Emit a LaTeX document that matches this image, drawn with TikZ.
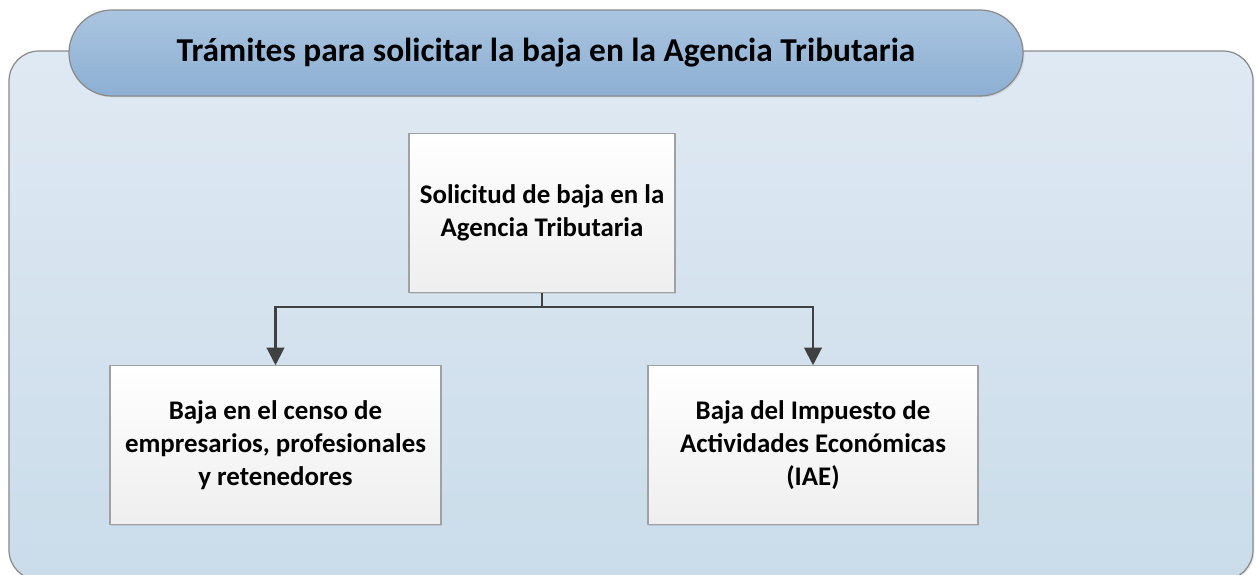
\documentclass[tikz,border=0pt]{standalone}
\usepackage{fontspec}
\setmainfont{Carlito}
\usepackage{tikz}
\usetikzlibrary{arrows.meta}
\usetikzlibrary{shadows}
\definecolor{panelTop}{HTML}{DFE9F3}
\definecolor{panelBot}{HTML}{CADCEA}
\definecolor{pillTop}{HTML}{AAC5E0}
\definecolor{pillBot}{HTML}{8CAFD3}
\definecolor{rim}{HTML}{8A8A8A}
\definecolor{linegray}{HTML}{404040}
\tikzset{%
    stepbox/.style={draw=rim!80,line width=0.6pt,top color=white,bottom color=gray!13,inner sep=1pt,
        minimum height=3.17cm,align=flush center,
        font=\fontsize{15.3}{18.8}\selectfont\bfseries,
        drop shadow={opacity=0.22,shadow xshift=0.6pt,shadow yshift=-0.9pt}},
    conn/.style={draw=linegray,line width=1.2pt,-{Triangle[width=10pt,length=10pt]}}
}

\begin{document}
\begin{tikzpicture}
        \useasboundingbox (0,0) rectangle (25.12,-11.48);

        \draw[rim,line width=0.7pt,rounded corners=0.6cm,top color=panelTop,bottom color=panelBot,
            drop shadow={opacity=0.2,shadow xshift=0.8pt,shadow yshift=-0.8pt}]
            (0.18,-1.02) rectangle (25.06,-11.6);

        \node[draw=rim,line width=0.7pt,rounded corners=0.86cm,top color=pillTop,bottom color=pillBot,
            minimum width=19.08cm,minimum height=1.72cm,
            font=\fontsize{19}{22}\selectfont\bfseries,
            drop shadow={opacity=0.2,shadow xshift=0.8pt,shadow yshift=-0.8pt}]
            (title) at (10.92,-1.06) {Trámites para solicitar la baja en la Agencia Tributaria};

        \node[stepbox,minimum width=5.32cm,text width=5.25cm] (sol) at (10.84,-4.26)
            {Solicitud de baja en la\\Agencia Tributaria};

        \node[stepbox,minimum width=6.62cm,text width=6.5cm] (censo) at (5.51,-8.9)
            {Baja en el censo de\\empresarios, profesionales\\y retenedores};
        \node[stepbox,minimum width=6.6cm,text width=6.5cm] (iae) at (16.26,-8.9)
            {Baja del Impuesto de\\Actividades Económicas\\(IAE)};

        \draw[conn] (sol.south) -- ++(0,-0.29) -| (censo.north);
        \draw[conn] (sol.south) -- ++(0,-0.29) -| (iae.north);
    \end{tikzpicture}
\end{document}
